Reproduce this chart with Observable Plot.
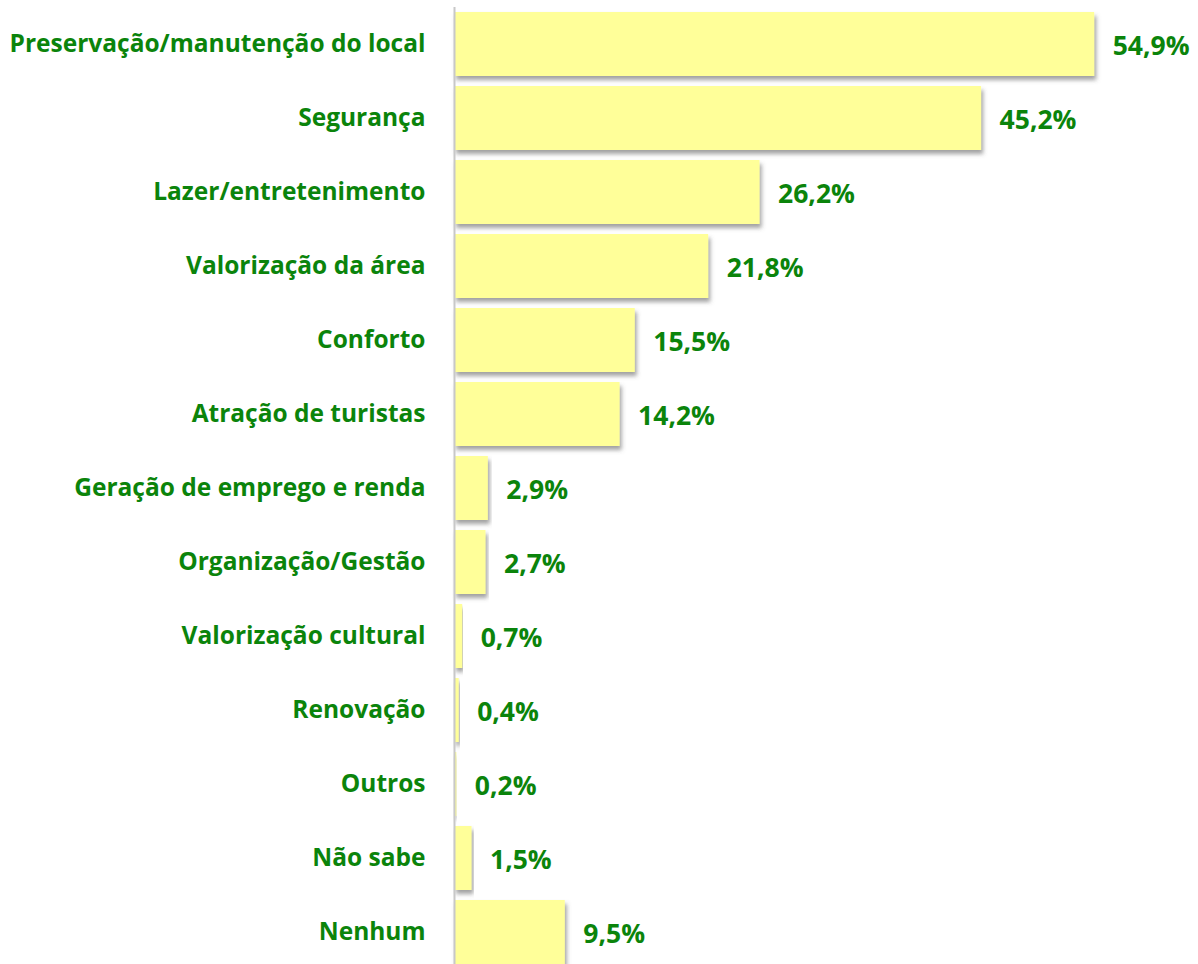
<!DOCTYPE html>
<html>
<head>
<meta charset="utf-8">
<script src="https://cdn.jsdelivr.net/npm/d3@7"></script>
<script src="https://cdn.jsdelivr.net/npm/@observablehq/plot@0.6"></script>
<style>
  html, body { margin: 0; padding: 0; background: #fff; overflow: hidden; }
</style>
</head>
<body>
<div id="chart"></div>
<script>
const categories = [
  "Preservação/manutenção do local",
  "Segurança",
  "Lazer/entretenimento",
  "Valorização da área",
  "Conforto",
  "Atração de turistas",
  "Geração de emprego e renda",
  "Organização/Gestão",
  "Valorização cultural",
  "Renovação",
  "Outros",
  "Não sabe",
  "Nenhum"
];
const values = [54.9, 45.2, 26.2, 21.8, 15.5, 14.2, 2.9, 2.7, 0.7, 0.4, 0.2, 1.5, 9.5];
const labels = ["54,9%", "45,2%", "26,2%", "21,8%", "15,5%", "14,2%", "2,9%", "2,7%", "0,7%", "0,4%", "0,2%", "1,5%", "9,5%"];

const data = categories.map((c, i) => ({cat: c, value: values[i], label: labels[i]}));

const green = "#0b840b";
const font = "'Open Sans', Lato, sans-serif";

const chart = Plot.plot({
  width: 1198,
  height: 964,
  marginLeft: 454,
  marginRight: 0,
  marginTop: 7,
  marginBottom: 0,
  style: {fontFamily: font, background: "#fff"},
  x: {domain: [0, 63.8], range: [454, 1198], axis: null},
  y: {domain: categories, range: [7, 969], paddingInner: 0.135, paddingOuter: 0.0675, label: null},
  marks: [
    Plot.barX(data, {y: "cat", x: "value", fill: "#ffff99", className: "bars"}),
    Plot.ruleX([0], {stroke: "#c8c8c8", strokeWidth: 2}),
    Plot.text(data, {
      y: "cat", x: "value", text: "label", dx: 18, dy: 2, textAnchor: "start",
      fill: green, fontSize: 26.5, fontWeight: "bold"
    }),
    Plot.axisY({
      tickSize: 0, tickPadding: 29, fontSize: 24.5, fontWeight: "bold",
      color: green, label: null
    })
  ]
});

// drop shadow on bars (style only)
const svg = d3.select(chart);
const defs = svg.insert("defs", ":first-child");
const f = defs.append("filter").attr("id", "shadow").attr("x", "-5%").attr("y", "-10%").attr("width", "115%").attr("height", "140%");
f.append("feDropShadow").attr("dx", 2).attr("dy", 4).attr("stdDeviation", 2).attr("flood-color", "#555").attr("flood-opacity", 0.55);
svg.selectAll("g.bars rect").attr("filter", "url(#shadow)");
svg.selectAll("g[aria-label='y-axis tick label'] text").attr("font-weight", "bold");

document.getElementById("chart").appendChild(chart);
</script>
</body>
</html>
